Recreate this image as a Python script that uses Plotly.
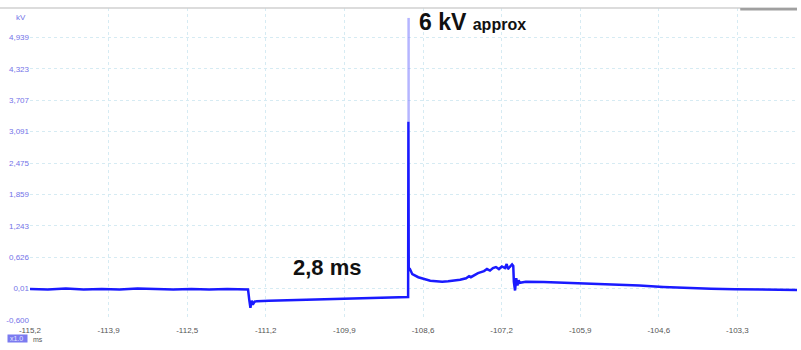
import plotly.graph_objects as go

# ---- data (time in ms, voltage in kV) ----
t_main = [-115.2, -114.9, -114.6, -114.3, -114.0, -113.7, -113.4, -113.1, -112.8, -112.5,
          -112.2, -111.9, -111.7, -111.55, -111.53, -111.51, -111.49, -111.47, -111.44, -111.40,
          -111.2, -111.0, -110.8, -110.6, -110.4, -110.2, -110.0, -109.8, -109.6, -109.4,
          -109.2, -109.0, -108.9, -108.87, -108.865, -108.86, -108.84, -108.8, -108.7, -108.6,
          -108.5, -108.4, -108.3, -108.2, -108.1, -108.0, -107.9, -107.85, -107.82, -107.75,
          -107.7, -107.6, -107.55, -107.5, -107.45, -107.4, -107.35, -107.3, -107.25, -107.22,
          -107.2, -107.17, -107.13, -107.11, -107.10, -107.08, -107.06, -107.04, -107.02, -107.0,
          -106.9, -106.6, -106.2, -105.8, -105.4, -105.0, -104.6, -104.2, -103.8, -103.4,
          -103.0, -102.7, -102.36]
v_main = [0.01, 0.00, 0.02, 0.00, 0.01, 0.00, 0.02, 0.01, 0.00, 0.01,
          0.00, 0.01, 0.00, 0.00, -0.20, -0.36, -0.22, -0.30, -0.24, -0.23,
          -0.22, -0.215, -0.21, -0.20, -0.20, -0.19, -0.19, -0.18, -0.175, -0.17,
          -0.16, -0.155, -0.15, -0.15, 3.29, 0.42, 0.40, 0.30, 0.24, 0.20,
          0.17, 0.16, 0.15, 0.16, 0.17, 0.19, 0.22, 0.26, 0.24, 0.29,
          0.32, 0.36, 0.40, 0.37, 0.42, 0.44, 0.40, 0.45, 0.42, 0.50,
          0.40, 0.44, 0.49, 0.46, 0.15, -0.02, 0.22, 0.08, 0.18, 0.13,
          0.15, 0.145, 0.13, 0.11, 0.095, 0.075, 0.05, 0.03, 0.015, 0.005,
          -0.005, -0.01, -0.01]

# faint upper part of the spike
t_spike = [-108.862, -108.862]
v_spike = [3.29, 5.33]

x_tickvals = [-115.2, -113.884, -112.568, -111.253, -109.937, -108.621, -107.305, -105.989, -104.674, -103.358]
x_ticktext = ["-115,2", "-113,9", "-112,5", "-111,2", "-109,9", "-108,6", "-107,2", "-105,9", "-104,6", "-103,3"]
y_tickvals = [-0.600, 0.0164, 0.6328, 1.2492, 1.8656, 2.482, 3.0984, 3.7148, 4.3312, 4.9476]
y_ticktext = ["-0,600", "0,01", "0,626", "1,243", "1,859", "2,475", "3,091", "3,707", "4,323", "4,939"]

fig = go.Figure()
fig.add_trace(go.Scatter(x=t_spike, y=v_spike, mode="lines",
                         line=dict(color="rgba(120,120,255,0.55)", width=2.5),
                         hoverinfo="skip", showlegend=False))
fig.add_trace(go.Scatter(x=t_main, y=v_main, mode="lines",
                         line=dict(color="#1a1aff", width=2.5),
                         showlegend=False))

fig.update_layout(
    width=801, height=350,
    margin=dict(l=30, r=4, t=8, b=30),
    paper_bgcolor="white", plot_bgcolor="white",
    font=dict(family="Liberation Sans, Arial, sans-serif"),
    xaxis=dict(range=[-115.2, -102.36], tickvals=x_tickvals, ticktext=x_ticktext,
               showgrid=True, gridcolor="#d6ebf3", griddash="dot", gridwidth=1.2,
               zeroline=False, showline=False, ticks="", automargin=False,
               ticklabelstandoff=4,
               tickfont=dict(size=8, color="#555555")),
    yaxis=dict(range=[-0.6, 5.525], tickvals=y_tickvals, ticktext=y_ticktext,
               showgrid=True, gridcolor="#d6ebf3", griddash="dot", gridwidth=1.2,
               zeroline=False, showline=False, ticks="", automargin=False,
               tickfont=dict(size=8, color="#7373e8")),
)

# top frame line and window widget
fig.add_shape(type="line", xref="paper", yref="paper", x0=-0.04, x1=1.0, y0=1.0, y1=1.0,
              line=dict(color="#d0d0d0", width=1.5))
fig.add_shape(type="line", xref="paper", yref="paper", x0=0.926, x1=1.0, y0=0.996, y1=0.996,
              line=dict(color="#a0a0a0", width=2.5))

fig.add_annotation(xref="paper", yref="paper", x=-0.003, y=0.97, text="kV", showarrow=False,
                   xanchor="right", yanchor="middle", font=dict(size=8, color="#7373e8"))
fig.add_annotation(x=-108.72, y=5.25,
                   text="<b>6 kV</b> <b><span style='font-size:16px'>approx</span></b>",
                   showarrow=False, xanchor="left", yanchor="middle",
                   font=dict(size=23, color="#111111", family="Liberation Sans, Arial, sans-serif"))
fig.add_annotation(x=-110.83, y=0.44, text="<b>2,8 ms</b>", showarrow=False,
                   xanchor="left", yanchor="middle",
                   font=dict(size=22, color="#111111", family="Liberation Sans, Arial, sans-serif"))

# bottom-left zoom badge
fig.add_annotation(xref="paper", yref="paper", x=-0.03, y=-0.045, text="&nbsp;x1.0&nbsp;&nbsp;", showarrow=False,
                   xanchor="left", yanchor="top", bgcolor="#7b7bf0",
                   font=dict(size=7, color="#e6e6ff"), borderpad=0)
fig.add_annotation(xref="paper", yref="paper", x=0.001, y=-0.045, text="ms", showarrow=False,
                   xanchor="left", yanchor="top", font=dict(size=7, color="#555555"))

fig.write_html("out.html", post_script="document.body.style.margin='0';",
               config={"displayModeBar": False})
